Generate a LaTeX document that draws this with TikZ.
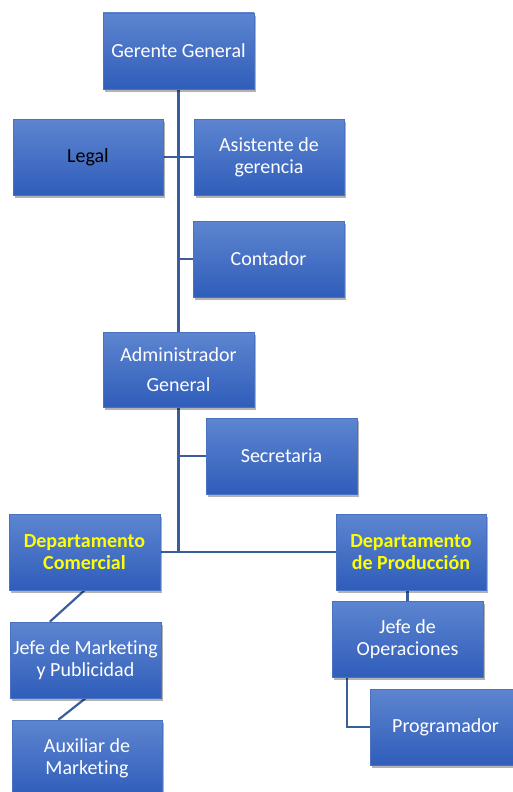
\documentclass[tikz,border=0pt]{standalone}
\usepackage{fontspec}
\setmainfont[Ligatures=NoCommon]{Carlito}
\usetikzlibrary{shadows,calc}
\pgfdeclarelayer{bg}
\pgfsetlayers{bg,main}
\definecolor{boxtop}{HTML}{5D85D0}
\definecolor{boxbot}{HTML}{2F5DBA}
\definecolor{boxline}{HTML}{4A72C0}
\definecolor{conn}{HTML}{3A5E9C}
\definecolor{deptyellow}{HTML}{FFFF00}
\tikzset{
  orgbox/.style={rectangle, inner sep=0pt, top color=boxtop, bottom color=boxbot,
    draw=boxline, line width=0.6pt, text=white, align=center,
    font=\fontsize{20}{22}\selectfont,
    drop shadow={shadow xshift=2pt, shadow yshift=-3pt, opacity=0.3, fill=black}},
  deptbox/.style={orgbox, text=deptyellow, font=\fontsize{20}{22}\selectfont\bfseries},
  link/.style={draw=conn, line width=2.2pt}
}
\begin{document}
\begin{tikzpicture}[x=1pt,y=-1pt]
\useasboundingbox (0,0) rectangle (513,792);
\clip (0,0) rectangle (513,792);
% nodes: centre from pixel box, size
\node[orgbox, minimum width=151pt, minimum height=76pt] (gg) at (178.5,51) {Gerente General};
\node[orgbox, minimum width=150pt, minimum height=76pt, text=black] (legal) at (88,157) {Legal};
\node[orgbox, minimum width=150pt, minimum height=76pt] (asis) at (269,157) {Asistente de\\gerencia};
\node[orgbox, minimum width=151pt, minimum height=76pt] (cont) at (268.5,259) {Contador};
\node[orgbox, minimum width=151pt, minimum height=75pt] (adm) at (178.5,369.5) {Administrador\\[8pt]General};
\node[orgbox, minimum width=151pt, minimum height=76pt] (sec) at (281.5,456) {Secretaria};
\node[deptbox, minimum width=151pt, minimum height=76pt] (dc) at (84.5,552) {Departamento\\Comercial};
\node[deptbox, minimum width=150pt, minimum height=76pt] (dp) at (411,552) {Departamento\\de Producción};
\node[orgbox, minimum width=151pt, minimum height=76pt] (jm) at (85.5,660) {Jefe de Marketing\\y Publicidad};
\node[orgbox, minimum width=151pt, minimum height=76pt] (jo) at (407.5,639) {Jefe de\\Operaciones};
\node[orgbox, minimum width=151pt, minimum height=76pt] (prog) at (445.5,727) {Programador};
\node[orgbox, minimum width=150pt, minimum height=76pt] (aux) at (87,758) {Auxiliar de\\Marketing};
% connectors
\begin{pgfonlayer}{bg}
\draw[link] (gg.south) -- (gg.south |- dc.east);
\draw[link] (dc.east) -- (dp.west);
\draw[link] (legal.east) -- (asis.west);
\draw[link] (gg.south |- cont.west) -- (cont.west);
\draw[link] (gg.south |- sec.west) -- (sec.west);
\draw[link] (dc.south) -- ($(jm.north west)!0.265!(jm.north east)$);
\draw[link] (jm.south) -- ($(aux.north west)!0.31!(aux.north east)$);
\draw[link] (jo.north) -- (jo.north |- dp.south);
\draw[link] ([xshift=15pt]jo.south west) |- (prog.west);
\end{pgfonlayer}
\end{tikzpicture}
\end{document}
